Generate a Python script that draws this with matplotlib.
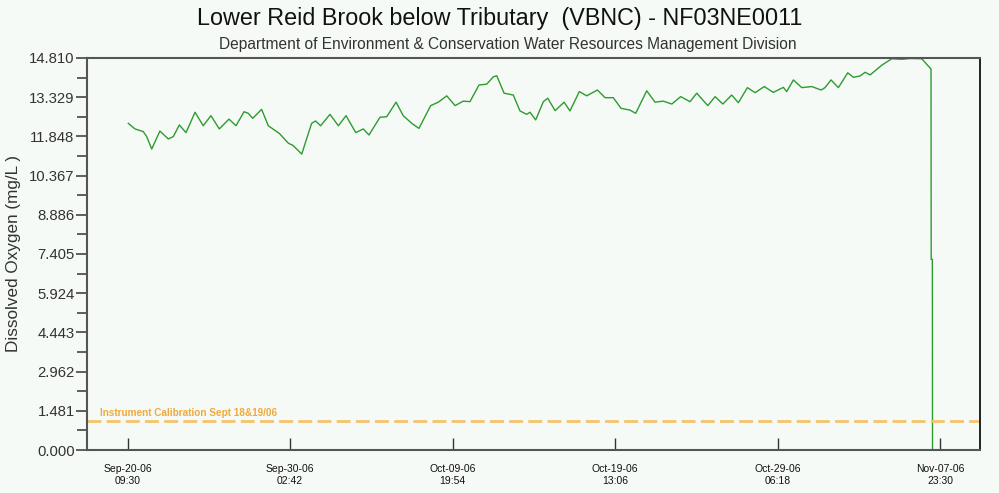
import matplotlib
matplotlib.use("Agg")
import matplotlib.pyplot as plt
import numpy as np
import pandas as pd

# Data: days after the first reading (Sep-20-06 09:30) and dissolved oxygen (mg/L)
start_time = "2006-09-20 09:30"
day_offsets = [0.04, 0.44, 0.93, 1.14, 1.44, 1.93, 2.43, 2.73, 3.09, 3.49,
               4.03, 4.52, 4.98, 5.48, 6.06, 6.48, 6.96, 7.21, 7.48, 8.01,
               8.41, 9.07, 9.61, 9.90, 10.41, 11.00, 11.24, 11.54, 12.10, 12.60,
               13.06, 13.64, 14.09, 14.43, 15.09, 15.49, 16.05, 16.48, 16.99, 17.42,
               18.12, 18.58, 19.08, 19.58, 20.07, 20.47, 21.01, 21.47, 21.87, 22.07,
               22.51, 23.06, 23.46, 23.86, 24.06, 24.40, 24.86, 25.12, 25.56, 26.10,
               26.45, 27.01, 27.45, 28.09, 28.55, 29.04, 29.50, 30.04, 30.38, 31.04,
               31.54, 32.03, 32.54, 33.07, 33.63, 34.03, 34.69, 35.13, 35.59, 36.12,
               36.52, 37.06, 37.52, 38.07, 38.61, 39.21, 39.41, 39.81, 40.31, 40.91,
               41.47, 41.70, 42.06, 42.50, 43.06, 43.40, 43.80, 44.10, 44.40, 45.10,
               45.69, 46.29, 46.79, 47.49, 48.04, 48.05, 48.12, 48.13]
oxygen = [12.34, 12.13, 12.03, 11.84, 11.37, 12.05, 11.75, 11.84, 12.28, 11.99,
          12.76, 12.25, 12.63, 12.13, 12.50, 12.25, 12.78, 12.72, 12.53, 12.87,
          12.25, 11.96, 11.59, 11.50, 11.18, 12.34, 12.43, 12.25, 12.68, 12.25,
          12.63, 11.99, 12.13, 11.90, 12.57, 12.59, 13.14, 12.63, 12.34, 12.15,
          13.01, 13.14, 13.38, 13.01, 13.18, 13.16, 13.79, 13.82, 14.10, 14.14,
          13.48, 13.41, 12.81, 12.68, 12.76, 12.47, 13.16, 13.29, 12.82, 13.14,
          12.81, 13.54, 13.38, 13.60, 13.31, 13.31, 12.91, 12.84, 12.72, 13.57,
          13.14, 13.18, 13.07, 13.35, 13.16, 13.48, 13.01, 13.35, 13.07, 13.41,
          13.12, 13.69, 13.50, 13.73, 13.51, 13.70, 13.54, 13.98, 13.69, 13.73,
          13.60, 13.69, 13.98, 13.69, 14.25, 14.08, 14.13, 14.27, 14.17, 14.54,
          14.78, 14.76, 14.79, 14.78, 14.39, 7.20, 7.20, 0.0]

calibration_level = 1.1
calibration_text = "Instrument Calibration Sept 18&19/06"

tick_times = ["2006-09-20 09:30", "2006-09-30 02:42", "2006-10-09 19:54",
              "2006-10-19 13:06", "2006-10-29 06:18", "2006-11-07 23:30"]
tick_labels = ["Sep-20-06\n09:30", "Sep-30-06\n02:42", "Oct-09-06\n19:54",
               "Oct-19-06\n13:06", "Oct-29-06\n06:18", "Nov-07-06\n23:30"]

y_max = 14.81
y_step = 1.481

title = "Lower Reid Brook below Tributary  (VBNC) - NF03NE0011"
subtitle = "Department of Environment & Conservation Water Resources Management Division"
y_label = "Dissolved Oxygen (mg/L )"

# Style
bg = "#f5faf7"
plt.rcParams["font.family"] = ["Liberation Sans", "DejaVu Sans"]

times = pd.Timestamp(start_time) + pd.to_timedelta(day_offsets, unit="D")
ticks = pd.to_datetime(tick_times)

fig = plt.figure(figsize=(9.99, 4.93), dpi=100, facecolor=bg)
ax = fig.add_axes([0.0871, 0.0872, 0.8939, 0.7952], facecolor=bg)

ax.plot(times, oxygen, color="#2e9b2e", linewidth=1.0)
ax.axhline(calibration_level, color="#f6c26c", linewidth=2, dashes=(5, 1.9))
ax.text(pd.Timestamp(start_time) - pd.Timedelta(days=1.65), calibration_level + 0.12,
        calibration_text, color="#f0aa3c", fontsize=7.2, fontweight="bold",
        va="bottom", ha="left")

# x axis
x_left = pd.Timestamp(start_time) - pd.Timedelta(days=2.43)
x_right = pd.Timestamp(start_time) + pd.Timedelta(days=50.97)
ax.set_xlim(x_left, x_right)
ax.set_xticks(ticks)
ax.set_xticklabels(tick_labels, fontsize=7.5, color="#111111", linespacing=1.25)
ax.tick_params(axis="x", direction="in", length=9, width=1, color="#333333", pad=10)

# y axis
ax.set_ylim(0, y_max)
yt = np.arange(0, y_max + 0.001, y_step)
ax.set_yticks(yt)
ax.set_yticklabels(["%.3f" % v for v in yt], fontsize=10.7, color="#333333")
ax.set_yticks(yt[:-1] + y_step / 2, minor=True)
ax.tick_params(axis="y", which="major", direction="out", length=8, width=1.2,
               color="#444444", pad=1)
ax.tick_params(axis="y", which="minor", direction="out", length=7, width=1.2,
               color="#444444")
ax.set_ylabel(y_label, fontsize=12.3, color="#333333", labelpad=6)

for side in ["left", "bottom", "top"]:
    ax.spines[side].set_color("#555555")
    ax.spines[side].set_linewidth(1.5)
ax.spines["right"].set_color("#111111")
ax.spines["right"].set_linewidth(1.3)

fig.text(0.5, 0.963, title, ha="center", va="center", fontsize=16.8, color="#111111")
fig.text(0.508, 0.91, subtitle, ha="center", va="center", fontsize=11.2, color="#333333")

fig.savefig("out.png", dpi=100, facecolor=bg)
